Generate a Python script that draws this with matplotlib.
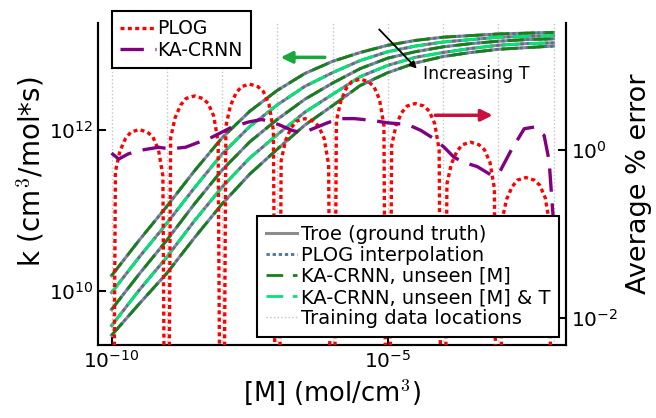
import matplotlib
matplotlib.use('Agg')
import matplotlib.pyplot as plt
from matplotlib.lines import Line2D
from matplotlib.ticker import NullLocator
import numpy as np

plt.rcParams['mathtext.fontset'] = 'cm'
plt.rcParams['font.family'] = 'DejaVu Sans'

# *** Datos ***
LOG_M = [-10, -9.5, -9, -8.5, -8, -7.5, -7, -6.5, -6, -5.5, -5, -4.5, -4, -3.5, -3, -2.5, -2]

# log10 k, de menor T (arriba) a mayor T (abajo)
LOG_K_T1 = [10.19, 10.63, 11.05, 11.49, 11.90, 12.23, 12.49, 12.70, 12.85, 12.96, 13.05, 13.11, 13.15, 13.17, 13.19, 13.20, 13.21]
LOG_K_T2 = [9.98, 10.42, 10.84, 11.28, 11.70, 12.04, 12.31, 12.54, 12.71, 12.86, 12.97, 13.04, 13.09, 13.12, 13.15, 13.16, 13.17]
LOG_K_T3 = [9.77, 10.21, 10.63, 11.08, 11.50, 11.85, 12.13, 12.38, 12.58, 12.76, 12.89, 12.97, 13.03, 13.07, 13.10, 13.12, 13.13]
LOG_K_T4 = [9.57, 10.01, 10.42, 10.87, 11.29, 11.65, 11.94, 12.22, 12.44, 12.66, 12.80, 12.90, 12.96, 13.01, 13.05, 13.07, 13.08]
LOG_K_T5 = [9.45, 9.84, 10.22, 10.66, 11.08, 11.45, 11.76, 12.06, 12.30, 12.55, 12.71, 12.83, 12.91, 12.96, 13.00, 13.02, 13.04]
CURVES = [LOG_K_T1, LOG_K_T2, LOG_K_T3, LOG_K_T4, LOG_K_T5]
UNSEEN_T = [False, True, False, True, False]

TRAIN_LOG_M = [-10, -9, -8, -7, -6, -5, -4, -3, -2]

# Error PLOG: pico de cada arco (log10 %) y forma comun del arco
PLOG_PEAK = [0.24, 0.64, 0.78, 0.37, 0.84, 0.55, 0.09, -0.33]
ARC_T = [0.0, 0.07, 0.15, 0.25, 0.35, 0.5, 0.65, 0.75, 0.85, 0.93, 1.0]
ARC_DROP = [8.0, 0.50, 0.26, 0.11, 0.03, 0.0, 0.03, 0.09, 0.24, 0.55, 8.0]

# Error KA-CRNN (log10 %)
KA_LOG_M = [-10.0, -9.87, -9.7, -9.51, -9.15, -8.94, -8.66, -8.42, -8.18, -8.0, -7.82, -7.52,
            -7.28, -7.10, -6.94, -6.73, -6.61, -6.43, -6.13, -5.89, -5.6, -5.3, -5.0, -4.64,
            -4.40, -4.16, -3.98, -3.80, -3.62, -3.38, -3.13, -2.98, -2.77, -2.53, -2.35,
            -2.17, -2.08, -2.02, -2.0]
KA_LOG_ERR = [-0.04, -0.11, -0.05, -0.01, 0.03, 0.01, 0.03, 0.09, 0.15, 0.21, 0.27, 0.33,
              0.36, 0.33, 0.29, 0.23, 0.21, 0.23, 0.31, 0.37, 0.37, 0.35, 0.32, 0.30,
              0.23, 0.13, 0.03, -0.09, -0.15, -0.20, -0.30, -0.27, -0.01, 0.25, 0.27,
              0.17, -0.13, -0.68, -0.85]

C_TROE = "#8c8c8c"
C_PLOG = "#4f7396"
C_DARK = "#17801a"
C_SPRING = "#00e676"
C_TRAIN = "#c4c4c4"
C_RED = "#ff0000"
C_PURPLE = "#800080"

fig = plt.figure(figsize=(6.56, 4.18), dpi=100)
ax1 = fig.add_axes([0.1498, 0.1746, 0.7125, 0.7711])
ax2 = ax1.twinx()

m = np.power(10.0, LOG_M)

for xt in TRAIN_LOG_M:
    ax1.axvline(10.0 ** xt, color=C_TRAIN, ls=':', lw=1.0, zorder=1)

for lk, unseen in zip(CURVES, UNSEEN_T):
    k = np.power(10.0, lk)
    ax1.plot(m, k, color=C_TROE, lw=2.2, zorder=2)
    ax1.plot(m, k, color=C_PLOG, ls=(0, (1.2, 1.0)), lw=2.0, zorder=3)
    ax1.plot(m, k, color=C_SPRING if unseen else C_DARK, ls=(0, (6, 3.5)), lw=2.0, zorder=4)

# Arcos de error PLOG
plog_x, plog_y = [], []
for i, peak in enumerate(PLOG_PEAK):
    a, b = TRAIN_LOG_M[i], TRAIN_LOG_M[i + 1]
    for t, d in zip(ARC_T, ARC_DROP):
        plog_x.append(a + t * (b - a))
        plog_y.append(peak - d)
ax2.plot(np.power(10.0, plog_x), np.power(10.0, plog_y), color=C_RED,
         ls=(0, (1.2, 1.0)), lw=2.4, zorder=3)
ax2.plot(np.power(10.0, KA_LOG_M), np.power(10.0, KA_LOG_ERR), color=C_PURPLE,
         ls=(0, (7, 3.5)), lw=2.4, zorder=4)

for ax in (ax1, ax2):
    ax.set_xscale('log')
    ax.set_yscale('log')
    ax.spines['top'].set_visible(False)
    for s in ax.spines.values():
        s.set_linewidth(1.5)
    ax.tick_params(direction='in', length=6, width=1.5, labelsize=14.5)

ax1.set_xlim(10 ** -10.24, 10 ** -1.78)
ax1.set_ylim(10 ** 9.33, 10 ** 13.33)
ax2.set_ylim(10 ** -2.32, 10 ** 1.51)
ax1.set_xticks([1e-10, 1e-5])
ax1.set_yticks([1e10, 1e12])
ax2.set_yticks([1e-2, 1e0])
ax1.xaxis.set_minor_locator(NullLocator())
ax1.yaxis.set_minor_locator(NullLocator())
ax2.yaxis.set_minor_locator(NullLocator())

ax1.set_xlabel('[M] (mol/cm$^3$)', fontsize=18.5)
ax1.set_ylabel('k (cm$^3$/mol*s)', fontsize=20)
ax1.yaxis.set_label_coords(-0.11, 0.537)
ax2.set_ylabel('Average % error', fontsize=19.5, labelpad=6)

# Flechas
ax1.annotate('', xy=(10 ** -6.99, 10 ** 12.90), xytext=(10 ** -6.09, 10 ** 12.90),
             arrowprops=dict(arrowstyle='-|>', color='#18a83c', lw=2.5, mutation_scale=17),
             zorder=6)
ax2.annotate('', xy=(10 ** -3.05, 10 ** 0.41), xytext=(10 ** -4.19, 10 ** 0.41),
             arrowprops=dict(arrowstyle='-|>', color='#c8103c', lw=2.5, mutation_scale=17),
             zorder=6)
ax2.annotate('', xy=(10 ** -4.44, 10 ** ((149.3 - 70) / 84.3)),
             xytext=(10 ** -5.19, 10 ** ((149.3 - 26.7) / 84.3)),
             arrowprops=dict(arrowstyle='-|>', color='black', lw=1.3, mutation_scale=10),
             zorder=6)
ax2.text(10 ** -4.36, 10 ** ((149.3 - 73) / 84.3), 'Increasing T', fontsize=12.5,
         ha='left', va='center', zorder=6)

# Leyendas
h1 = [Line2D([], [], color=C_RED, ls=(0, (1.2, 1.0)), lw=2.4),
      Line2D([], [], color=C_PURPLE, ls=(0, (7, 3.5)), lw=2.4)]
leg1 = ax2.legend(h1, ['PLOG', 'KA-CRNN'], loc='upper left',
                  bbox_to_anchor=(0.1707, 0.9737), bbox_transform=fig.transFigure,
                  borderaxespad=0, fontsize=13.5, fancybox=False, framealpha=1,
                  edgecolor='black', handlelength=1.9, labelspacing=0.13,
                  handletextpad=0.05, borderpad=0.45)
leg1.get_frame().set_linewidth(1.5)

h2 = [Line2D([], [], color=C_TROE, lw=2.2),
      Line2D([], [], color=C_PLOG, ls=(0, (1.2, 1.0)), lw=2.0),
      Line2D([], [], color=C_DARK, ls=(0, (6, 3.5)), lw=2.0),
      Line2D([], [], color=C_SPRING, ls=(0, (6, 3.5)), lw=2.0),
      Line2D([], [], color=C_TRAIN, ls=':', lw=1.0)]
l2 = ['Troe (ground truth)', 'PLOG interpolation', 'KA-CRNN, unseen [M]',
      'KA-CRNN, unseen [M] & T', 'Training data locations']
leg2 = ax2.legend(h2, l2, loc='lower right', bbox_to_anchor=(0.8521, 0.1938),
                  bbox_transform=fig.transFigure, borderaxespad=0, fontsize=14,
                  fancybox=False, framealpha=1, edgecolor='black', handlelength=1.6,
                  labelspacing=0.11, handletextpad=0.2, borderpad=0.45)
leg2.get_frame().set_linewidth(1.5)
ax2.add_artist(leg1)

fig.savefig('out.png', dpi=100)
